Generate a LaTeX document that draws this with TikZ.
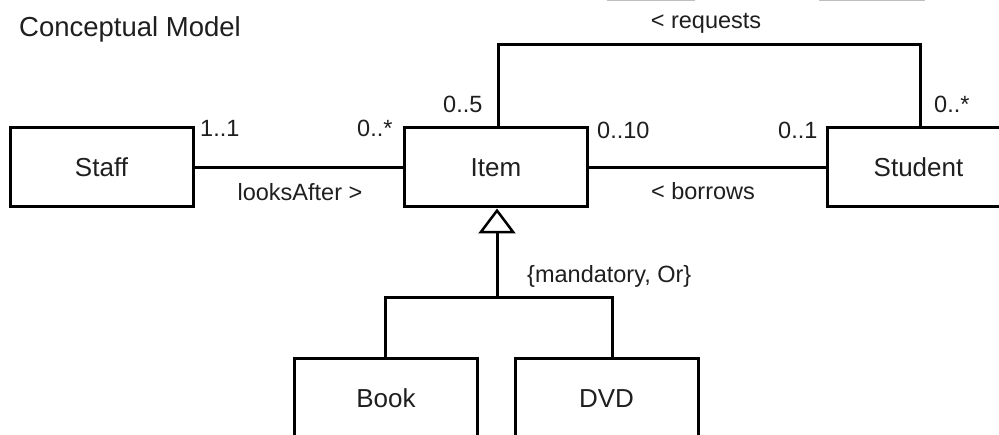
\documentclass[tikz,border=0pt]{standalone}
\usepackage{fontspec}
\setmainfont{Liberation Sans}
\usetikzlibrary{arrows.meta}
\begin{document}
\begin{tikzpicture}[x=1pt,y=-1pt,
  cls/.style={draw, line width=3pt, minimum width=183pt, minimum height=79pt, inner sep=0pt, text=black!88, font=\fontsize{26}{30}\selectfont},
  lbl/.style={inner sep=0pt, text=black!88, font=\fontsize{23.5}{28}\selectfont},
  conn/.style={line width=3pt},
  remnant/.style={draw=black!25, line width=1.5pt}]
\path[use as bounding box, fill=white] (0,0) rectangle (999,435);
\clip (0,0) rectangle (999,435);
% faint remnants at top edge
\draw[remnant] (607,0.5) -- (695,0.5);
\draw[remnant] (819,0.5) -- (925,0.5);
% title
\node[inner sep=0pt, anchor=base west, text=black!88, font=\fontsize{27.5}{32}\selectfont] (title) at (19,37) {Conceptual Model};
% classes
\node[cls] (staff) at (101.5,167.5) {Staff};
\node[cls] (item) at (496,167.5) {Item};
\node[cls] (student) at (918.5,167.5) {Student};
\node[cls] (book) at (386,398.5) {Book};
\node[cls] (dvd) at (606.5,398.5) {DVD};
% associations
\draw[conn] (staff) -- (item);
\draw[conn] (item) -- (student);
\coordinate (rq) at (709,45);
\draw[conn] ([xshift=2pt]item.north) |- (rq) -| ([xshift=1.5pt]student.north);
% generalization
\coordinate (gb) at (497,298);
\draw[conn, -{Triangle[open, length=25pt, width=37pt, line width=2.5pt]}] (gb) -- ([xshift=1pt]item.south);
\draw[conn] ([xshift=-1pt]book.north) |- (gb) -| ([xshift=5.5pt]dvd.north);
% labels
\node[lbl, anchor=base] (lreq) at (706,29) {< requests};
\node[lbl, anchor=base west] (m11) at (200,137) {1..1};
\node[lbl, anchor=base west] (m0s) at (357,137) {0..*};
\node[lbl, anchor=base] (llook) at (300,201) {looksAfter >};
\node[lbl, anchor=base west] (m05) at (443,113) {0..5};
\node[lbl, anchor=base west] (m010) at (597,139) {0..10};
\node[lbl, anchor=base west] (m01) at (778,139) {0..1};
\node[lbl, anchor=base] (lbor) at (703,200) {< borrows};
\node[lbl, anchor=base west] (m0s2) at (934,113) {0..*};
\node[lbl, anchor=base west] (lgen) at (527,283) {\{mandatory, Or\}};
\end{tikzpicture}
\end{document}
